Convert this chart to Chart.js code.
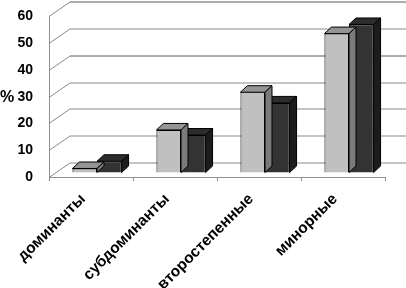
<!DOCTYPE html>
<html>
<head>
<meta charset="utf-8">
<script src="https://cdn.jsdelivr.net/npm/chart.js@4"></script>
<style>
  html, body { margin: 0; padding: 0; background: #fff; }
  #wrap { width: 406px; height: 288px; position: relative; }
</style>
</head>
<body>
<div id="wrap"><canvas id="chart"></canvas></div>
<script>
// chart data
const categories = ['доминанты', 'субдоминанты', 'второстепенные', 'минорные'];
const seriesLight = [1.5, 15.9, 30, 51.9];
const seriesDark = [4.2, 14, 26, 55.3];
const yMin = 0, yMax = 60, yStep = 10;

// 3d look
const WALL_DX = 21, WALL_DY = -14.5;   // back wall offset
const BAR_DX = 6, BAR_DY = -4.5;       // bars sit a bit into the floor
const DEPTH_DX = 7, DEPTH_DY = -6.5;   // bar depth

const faceColors = [
    { top: '#959595', side: '#7a7a7a' },
    { top: '#2c2c2c', side: '#1c1c1c' }
];

const depthPlugin = {
    id: 'depth',
    beforeDatasetsDraw(chart) {
        const ctx = chart.ctx;
        const y = chart.scales.y;
        const area = chart.chartArea;
        ctx.save();
        ctx.lineWidth = 1;
        y.ticks.forEach(t => {
            const py = Math.round(y.getPixelForValue(t.value)) + 0.5;
            // diagonal from the front axis to the wall
            ctx.strokeStyle = '#8a8a8a';
            ctx.beginPath();
            ctx.moveTo(area.left, py);
            ctx.lineTo(area.left + WALL_DX, py + WALL_DY);
            ctx.stroke();
            // back wall line
            ctx.strokeStyle = (t.value === 40 || t.value === 60) ? '#5a5a5a' : '#8a8a8a';
            ctx.beginPath();
            ctx.moveTo(area.left + WALL_DX, py + WALL_DY);
            ctx.lineTo(chart.width, py + WALL_DY);
            ctx.stroke();
        });
        ctx.restore();
    },
    beforeDatasetDraw(chart, args) {
        chart.ctx.save();
        chart.ctx.translate(BAR_DX, BAR_DY);
    },
    afterDatasetDraw(chart, args) {
        const ctx = chart.ctx;
        const cols = faceColors[args.index];
        ctx.lineWidth = 1;
        ctx.strokeStyle = '#000';
        args.meta.data.forEach(el => {
            const p = el.getProps(['x', 'y', 'base', 'width'], true);
            const l = p.x - p.width / 2, r = p.x + p.width / 2;
            // top
            ctx.beginPath();
            ctx.moveTo(l, p.y);
            ctx.lineTo(l + DEPTH_DX, p.y + DEPTH_DY);
            ctx.lineTo(r + DEPTH_DX, p.y + DEPTH_DY);
            ctx.lineTo(r, p.y);
            ctx.closePath();
            ctx.fillStyle = cols.top;
            ctx.fill();
            ctx.stroke();
            // right side
            ctx.beginPath();
            ctx.moveTo(r, p.y);
            ctx.lineTo(r + DEPTH_DX, p.y + DEPTH_DY);
            ctx.lineTo(r + DEPTH_DX, p.base + DEPTH_DY);
            ctx.lineTo(r, p.base);
            ctx.closePath();
            ctx.fillStyle = cols.side;
            ctx.fill();
            ctx.stroke();
        });
        ctx.restore();
    },
    afterDraw(chart) {
        // the "%" axis label, kept horizontal
        const ctx = chart.ctx;
        const area = chart.chartArea;
        ctx.save();
        ctx.fillStyle = '#000';
        ctx.font = 'bold 16px "Liberation Sans", Arial, sans-serif';
        ctx.textAlign = 'left';
        ctx.textBaseline = 'middle';
        ctx.fillText('%', 0, (area.top + area.bottom) / 2 + 1);
        ctx.restore();
    }
};

const fontFamily = '"Liberation Sans", Arial, sans-serif';

new Chart(document.getElementById('chart'), {
    type: 'bar',
    data: {
        labels: categories,
        datasets: [{
            data: seriesLight,
            backgroundColor: '#c0c0c0',
            borderColor: '#000',
            borderWidth: 1,
            clip: false
        }, {
            data: seriesDark,
            backgroundColor: '#333333',
            borderColor: '#000',
            borderWidth: 1,
            clip: false
        }]
    },
    options: {
        responsive: true,
        maintainAspectRatio: false,
        animation: false,
        events: [],
        layout: { padding: { left: 0, right: 21, top: 16, bottom: 0 } },
        datasets: { bar: { categoryPercentage: 0.585, barPercentage: 1 } },
        plugins: {
            legend: { display: false },
            tooltip: { enabled: false }
        },
        scales: {
            x: {
                offset: true,
                grid: { drawOnChartArea: false, drawTicks: true, tickLength: 4, color: '#909090', offset: true },
                border: { display: true, color: '#909090' },
                ticks: {
                    color: '#000', font: { family: fontFamily, size: 15.5, weight: 'bold' },
                    autoSkip: false, maxRotation: 45, minRotation: 45,
                    padding: 9, labelOffset: -8
                },
                afterFit(s) { s.height = 111; }
            },
            y: {
                min: yMin, max: yMax,
                grid: { display: false },
                border: { display: true, color: '#909090' },
                ticks: { stepSize: yStep, color: '#000', font: { family: fontFamily, size: 14, weight: 'bold' }, padding: 8 },
                afterFit(s) { s.width = 49; }
            }
        }
    },
    plugins: [depthPlugin]
});
</script>
</body>
</html>
